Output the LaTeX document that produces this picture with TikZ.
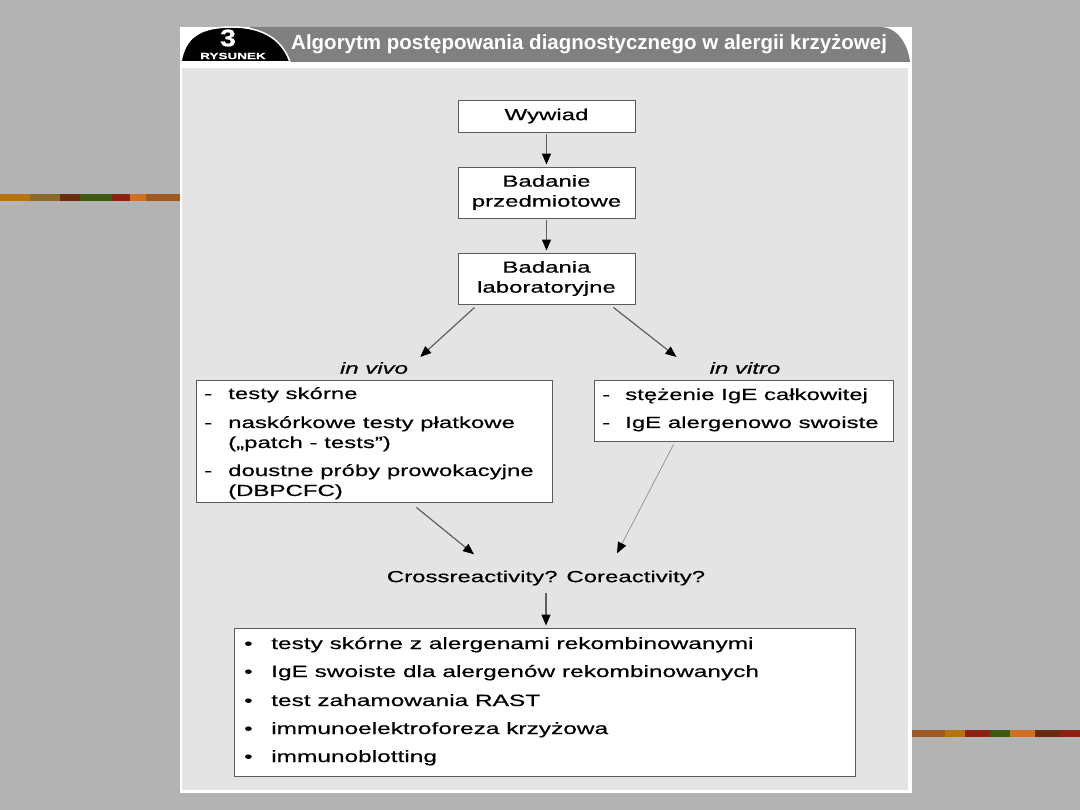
\documentclass[tikz,border=0pt]{standalone}
\usepackage{fontspec}
\setmainfont{Liberation Sans}[FakeStretch=1.5,FakeBold=0.5]
\newfontfamily\hdrfont{Liberation Sans}
\newfontfamily\numfont{Liberation Sans}[FakeStretch=1.2,FakeBold=0.6]
\newfontfamily\rysfont{Liberation Sans}[FakeStretch=1.5,FakeBold=0.6]
\usetikzlibrary{arrows.meta,calc}
\definecolor{bggray}{RGB}{179,179,179}
\definecolor{panelgray}{RGB}{228,228,228}
\definecolor{bandgray}{RGB}{128,128,128}
\definecolor{boxline}{RGB}{90,90,90}
\definecolor{arrline}{RGB}{95,95,95}
\definecolor{sA}{RGB}{184,115,14}
\definecolor{sB}{RGB}{138,106,40}
\definecolor{sC}{RGB}{106,42,16}
\definecolor{sD}{RGB}{62,90,16}
\definecolor{sE}{RGB}{144,32,16}
\definecolor{sF}{RGB}{208,112,32}
\definecolor{sG}{RGB}{160,90,32}
\tikzset{
  flowbox/.style={draw=boxline, line width=0.9pt, fill=white, inner sep=0pt, align=center,
    font=\fontsize{16}{20}\selectfont},
  listtxt/.style={anchor=base west, inner sep=0pt, font=\fontsize{16}{20}\selectfont},
  bigtxt/.style={listtxt, font=\fontsize{16.3}{20}\selectfont},
  plaintxt/.style={inner sep=0pt, font=\fontsize{16}{20}\selectfont},
  arr/.style={draw=arrline, line width=1.2pt, -{Triangle[length=11pt,width=9pt,black]}},
  thinarr/.style={draw=arrline!70, line width=0.7pt, -{Triangle[length=11pt,width=9pt,black]}}
}
\begin{document}
\begin{tikzpicture}[x=1pt,y=-1pt]
\useasboundingbox (0,0) rectangle (1080,810);
\fill[bggray] (0,0) rectangle (1080,810);
% decorative stripes
\foreach \a/\b/\c in {0/30/sA,30/60/sB,60/80/sC,80/112/sD,112/130/sE,130/146/sF,146/180/sG}
  \fill[\c] (\a,194) rectangle (\b,201.5);
\foreach \a/\b/\c in {911/945/sG,945/965/sA,965/990/sE,990/1010/sD,1010/1035/sF,1035/1060/sC,1060/1080/sE}
  \fill[\c] (\a,730) rectangle (\b,737);
% figure frame
\fill[white] (180,27) rectangle (912,793);
\fill[panelgray] (182,68) rectangle (908,790);
% header band
\fill[bandgray] (250,27) -- (880,27) .. controls (898,27) and (908,45) .. (910,62) -- (250,62) -- cycle;
\filldraw[fill=black, draw=white, line width=1.5pt] (181,62) .. controls (185,37) and (200,27) .. (232,27)
  .. controls (266,27) and (283,42) .. (290,62) -- cycle;
\node[text=white, inner sep=0pt, font=\numfont\bfseries\fontsize{24}{24}\selectfont] (num) at (228,38) {3};
\node[text=white, inner sep=0pt, font=\rysfont\bfseries\fontsize{9}{9}\selectfont] (rys) at (233,56) {RYSUNEK};
\node[text=white, anchor=west, inner sep=0pt, font=\hdrfont\bfseries\fontsize{20.5}{22}\selectfont] (title) at (291,44)
  {Algorytm postępowania diagnostycznego w alergii krzyżowej};
% main flow
\node[flowbox, minimum width=177pt, minimum height=32pt] (wyw) at (546.5,116) {Wywiad};
\node[flowbox, minimum width=177pt, minimum height=51pt] (bad) at (546.5,192.5) {Badanie\\przedmiotowe};
\node[flowbox, minimum width=177pt, minimum height=51pt] (lab) at (546.5,278.5) {Badania\\laboratoryjne};
\draw[arr, shorten <=2pt, shorten >=2pt] (wyw.south) -- (bad.north);
\draw[arr, shorten <=2pt, shorten >=2pt] (bad.south) -- (lab.north);
% labels
\node[plaintxt, font=\fontsize{16}{20}\selectfont\itshape] (vivolbl) at (374,368) {in vivo};
\node[plaintxt, font=\fontsize{16}{20}\selectfont\itshape] (vitrolbl) at (745,368) {in vitro};
\draw[arr] ($(lab.south west)+(17,3)$) -- ($(vivolbl.north east)+(12,-5)$);
\draw[arr] ($(lab.south east)+(-22,3)$) -- ($(vitrolbl.north west)+(-33,-5)$);
% in vivo box
\node[flowbox, minimum width=356pt, minimum height=122pt] (vivo) at (374,441) {};
\node[listtxt] (d1) at (204,399) {-};
\node[listtxt] (t1) at (228,399) {testy skórne};
\node[listtxt] (d2) at (204,428) {-};
\node[listtxt] (t2) at (228,428) {naskórkowe testy płatkowe};
\node[listtxt] (t2b) at (228,448) {(„patch - tests”)};
\node[listtxt] (d3) at (204,476) {-};
\node[listtxt] (t3) at (228,476) {doustne próby prowokacyjne};
\node[listtxt] (t3b) at (228,496) {(DBPCFC)};
% in vitro box
\node[flowbox, minimum width=299pt, minimum height=61pt] (vitro) at (743.5,410.5) {};
\node[listtxt] (d4) at (602,400) {-};
\node[listtxt] (t4) at (625,400) {stężenie IgE całkowitej};
\node[listtxt] (d5) at (602,428) {-};
\node[listtxt] (t5) at (625,428) {IgE alergenowo swoiste};
% convergence
\node[plaintxt] (cross) at (546,578) {Crossreactivity? Coreactivity?};
\draw[arr] ($(vivo.south east)+(-136,5)$) -- ($(cross.north)+(-72,-16)$);
\draw[thinarr] ($(vitro.south west)+(80,3)$) -- ($(cross.north)+(71,-17)$);
% bottom box
\node[flowbox, minimum width=621pt, minimum height=148pt] (tests) at (544.5,702) {};
\draw[arr, shorten <=7pt, shorten >=2pt] (cross.south) -- (cross.south |- tests.north);
\node[listtxt] (b1) at (244,649) {•};
\node[bigtxt] (u1) at (271,649) {testy skórne z alergenami rekombinowanymi};
\node[listtxt] (b2) at (244,677) {•};
\node[bigtxt] (u2) at (271,677) {IgE swoiste dla alergenów rekombinowanych};
\node[listtxt] (b3) at (244,706) {•};
\node[bigtxt] (u3) at (271,706) {test zahamowania RAST};
\node[listtxt] (b4) at (244,734) {•};
\node[bigtxt] (u4) at (271,734) {immunoelektroforeza krzyżowa};
\node[listtxt] (b5) at (244,762) {•};
\node[bigtxt] (u5) at (271,762) {immunoblotting};
\end{tikzpicture}
\end{document}
